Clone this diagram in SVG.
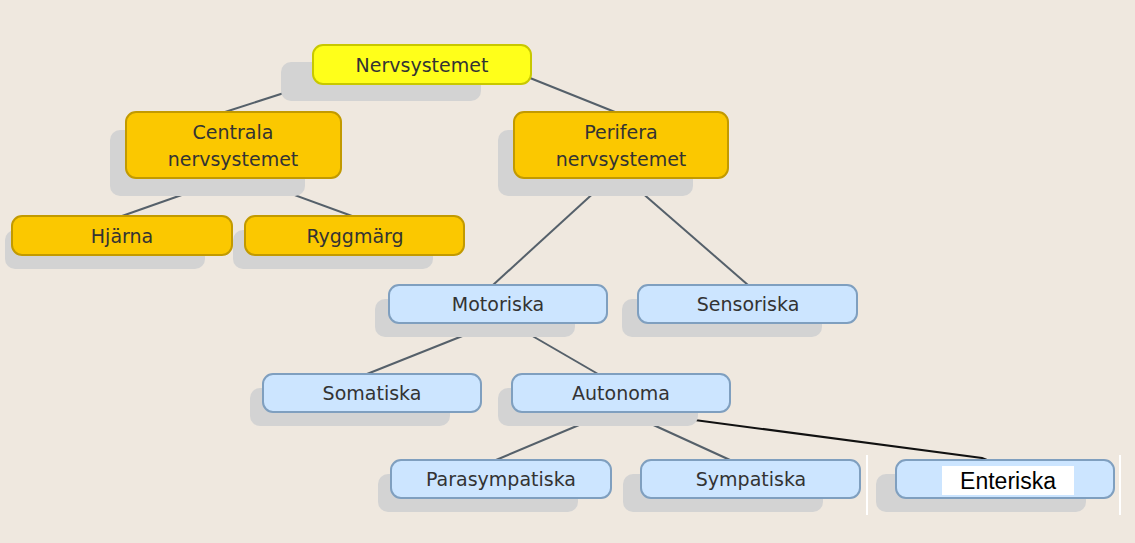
<svg xmlns="http://www.w3.org/2000/svg" width="1135" height="543" viewBox="0 0 1135 543">
<style>
.sh{fill:#d3d3d3}
.y{fill:#ffff1a;stroke:#c8c800;stroke-width:2}
.o{fill:#fbc800;stroke:#c29a00;stroke-width:2}
.b{fill:#cce5ff;stroke:#7f9fbf;stroke-width:2}
text{font-family:"DejaVu Sans",sans-serif;font-size:19px;fill:#333;text-anchor:middle}
.e line{stroke:#55606a;stroke-width:2}
</style>
<rect width="1135" height="543" fill="#efe8df"/>
<g class="e" id="connectors">
<line x1="315" y1="83" x2="225" y2="112"/>
<line x1="530" y1="78" x2="615" y2="112"/>
<line x1="230" y1="178" x2="122" y2="216"/>
<line x1="248" y1="178" x2="352" y2="216"/>
<line x1="610" y1="178" x2="493" y2="285"/>
<line x1="625" y1="178" x2="748" y2="285"/>
<line x1="495" y1="323" x2="367" y2="374"/>
<line x1="510" y1="323" x2="598" y2="374"/>
<line x1="610" y1="412" x2="496" y2="460"/>
<line x1="625" y1="412" x2="730" y2="460"/>
<path d="M642,413 L982,458 L987,460" fill="none" stroke="#111" stroke-width="2"/>
</g>
<line x1="867" y1="455" x2="867" y2="515" stroke="#fff" stroke-width="2"/>
<line x1="1120" y1="455" x2="1120" y2="515" stroke="#fff" stroke-width="2"/>
<g id="n1"><rect class="sh" x="281" y="62" width="200" height="39" rx="10"/><rect class="y" x="313" y="45" width="218" height="39" rx="10"/><text x="422" y="72">Nervsystemet</text></g>
<g id="n2"><rect class="sh" x="110" y="130" width="195" height="66" rx="10"/><rect class="o" x="126" y="112" width="215" height="66" rx="10"/><text x="233" y="139">Centrala</text><text x="233" y="166">nervsystemet</text></g>
<g id="n3"><rect class="sh" x="498" y="130" width="195" height="66" rx="10"/><rect class="o" x="514" y="112" width="214" height="66" rx="10"/><text x="621" y="139">Perifera</text><text x="621" y="166">nervsystemet</text></g>
<g id="n4"><rect class="sh" x="5" y="230" width="200" height="39" rx="10"/><rect class="o" x="12" y="216" width="220" height="39" rx="10"/><text x="122" y="243">Hjärna</text></g>
<g id="n5"><rect class="sh" x="233" y="230" width="200" height="39" rx="10"/><rect class="o" x="245" y="216" width="219" height="39" rx="10"/><text x="355" y="243">Ryggmärg</text></g>
<g id="n6"><rect class="sh" x="375" y="299" width="200" height="38" rx="10"/><rect class="b" x="389" y="285" width="218" height="38" rx="10"/><text x="498" y="311">Motoriska</text></g>
<g id="n7"><rect class="sh" x="622" y="299" width="200" height="38" rx="10"/><rect class="b" x="638" y="285" width="219" height="38" rx="10"/><text x="748" y="311">Sensoriska</text></g>
<g id="n8"><rect class="sh" x="250" y="388" width="200" height="38" rx="10"/><rect class="b" x="263" y="374" width="218" height="38" rx="10"/><text x="372" y="400">Somatiska</text></g>
<g id="n9"><rect class="sh" x="498" y="388" width="200" height="38" rx="10"/><rect class="b" x="512" y="374" width="218" height="38" rx="10"/><text x="621" y="400">Autonoma</text></g>
<g id="n10"><rect class="sh" x="378" y="474" width="200" height="38" rx="10"/><rect class="b" x="391" y="460" width="220" height="38" rx="10"/><text x="501" y="486">Parasympatiska</text></g>
<g id="n11"><rect class="sh" x="623" y="474" width="200" height="38" rx="10"/><rect class="b" x="641" y="460" width="219" height="38" rx="10"/><text x="751" y="486">Sympatiska</text></g>
<g id="n12"><rect class="sh" x="876" y="474" width="210" height="38" rx="10"/><rect class="b" x="896" y="460" width="218" height="38" rx="10"/><rect x="942" y="466" width="132" height="29" fill="#fff"/><text x="1008" y="489" style="font-family:'Liberation Sans',sans-serif;font-size:23px;fill:#000">Enteriska</text></g>
</svg>
